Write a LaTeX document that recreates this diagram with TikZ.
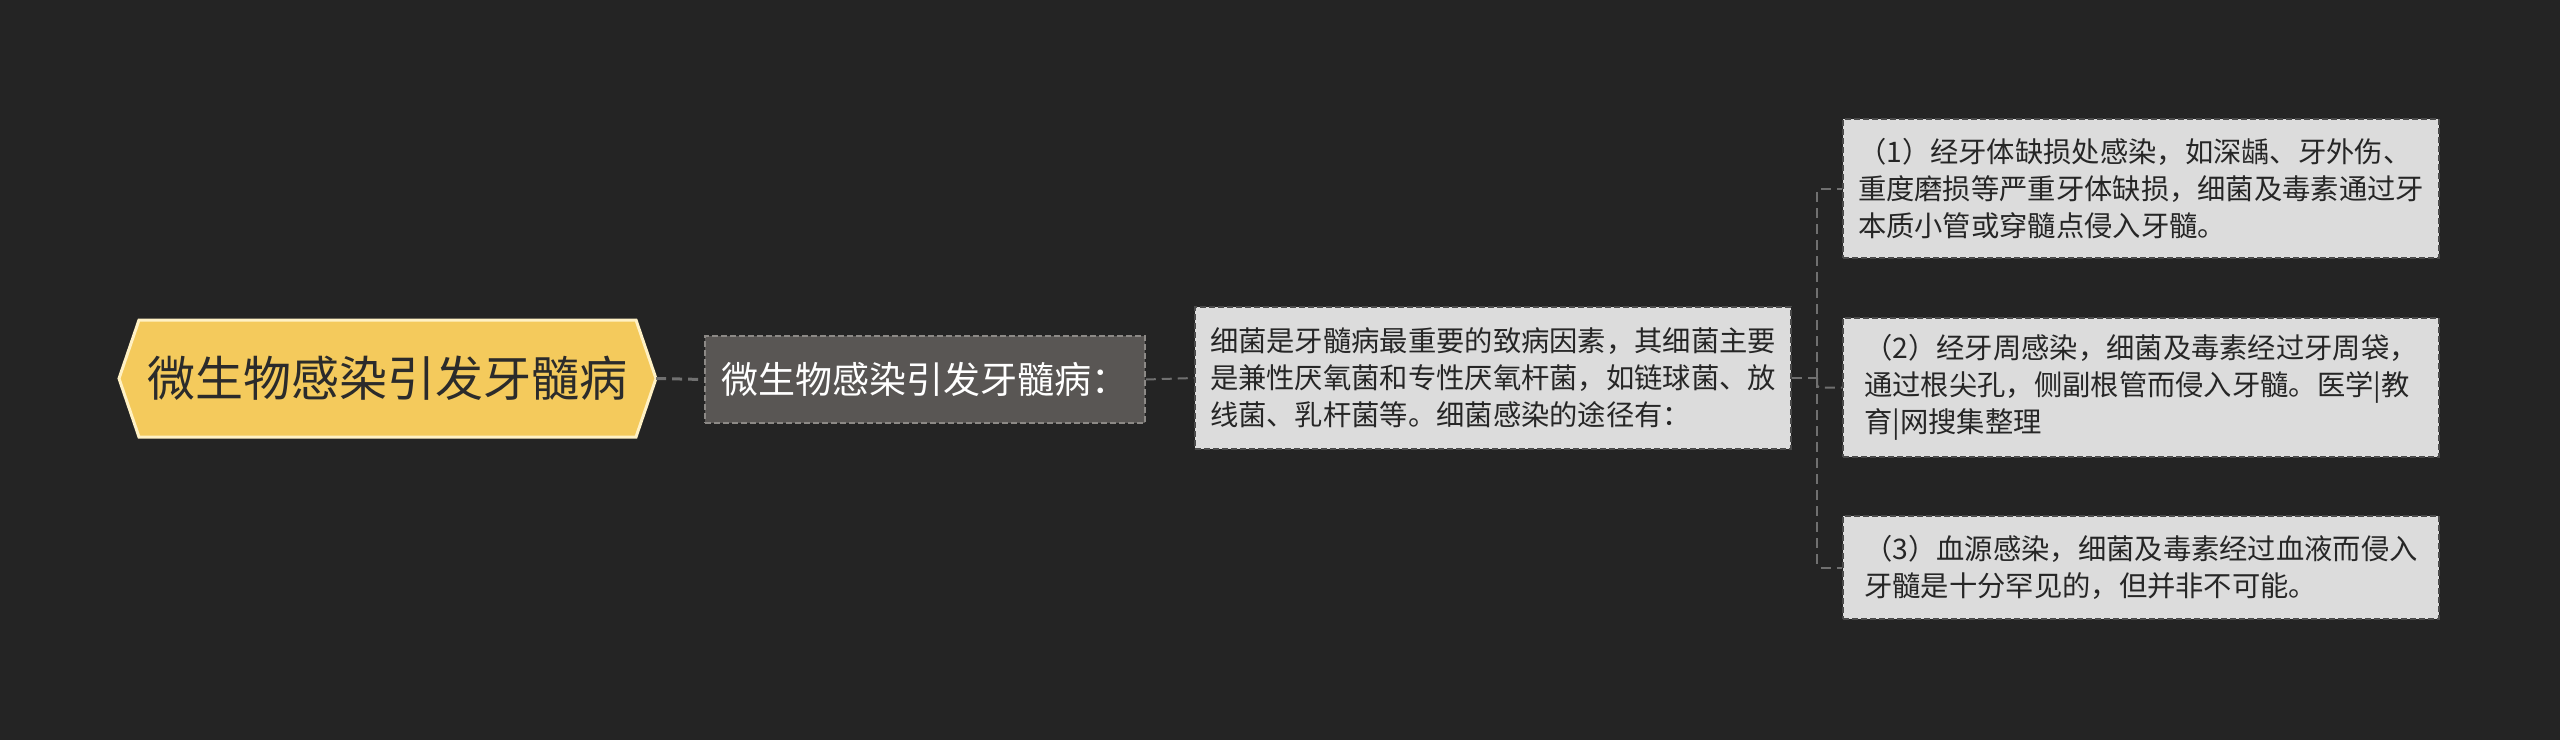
\documentclass[tikz,border=0pt]{standalone}
\usepackage{fontspec}
\setmainfont{Noto Sans CJK SC}
\usetikzlibrary{calc}
\definecolor{bg}{HTML}{242424}
\definecolor{rootfill}{HTML}{F4CA5C}
\definecolor{rootline}{HTML}{FFF1C4}
\definecolor{rootText}{HTML}{2B2B2B}
\definecolor{secfill}{HTML}{595654}
\definecolor{secline}{HTML}{8C8986}
\definecolor{leaffill}{HTML}{DCDCDC}
\definecolor{leafline}{HTML}{4A4A4A}
\definecolor{conncol}{HTML}{707070}
\tikzset{
  rootbox/.style={minimum width=537pt, minimum height=117pt, inner sep=0pt,
    text=rootText, font=\fontsize{48}{56}\selectfont},
  secbox/.style={draw=secline, fill=secfill, dash pattern=on 6pt off 3pt, line width=1.5pt,
    minimum width=440pt, minimum height=87pt, inner sep=0pt,
    text=white, font=\fontsize{37}{44}\selectfont},
  leafbox/.style={draw=leafline, fill=leaffill, dash pattern=on 6pt off 3pt, line width=1.5pt,
    minimum width=596pt, inner xsep=14pt, inner ysep=0pt, align=left,
    text=black!85, font=\fontsize{28.3}{37}\selectfont},
  conn/.style={draw=conncol, line width=2pt, dash pattern=on 10pt off 6pt},
}
\begin{document}
\begin{tikzpicture}[x=1pt,y=-1pt]
\useasboundingbox (0,0) rectangle (2560,740);
\fill[bg] (0,0) rectangle (2560,740);

\coordinate (rootc) at (387.5,378.5);
\filldraw[fill=rootfill, draw=rootline, line width=3pt]
  ($(rootc)+(-268.5,0)$) -- ($(rootc)+(-248.5,-58.5)$) -- ($(rootc)+(248.5,-58.5)$)
  -- ($(rootc)+(268.5,0)$) -- ($(rootc)+(248.5,58.5)$) -- ($(rootc)+(-248.5,58.5)$) -- cycle;
\node[rootbox] (root) at (rootc) {微生物感染引发牙髓病};

\node[secbox] (sec) at (925,379.5) {微生物感染引发牙髓病：};

\node[leafbox, minimum height=142pt] (mid) at (1493,378) {细菌是牙髓病最重要的致病因素，其细菌主要\\是兼性厌氧菌和专性厌氧杆菌，如链球菌、放\\线菌、乳杆菌等。细菌感染的途径有：};

\node[leafbox, minimum height=139pt] (l1) at (2141,188.5) {（1）经牙体缺损处感染，如深龋、牙外伤、\\重度磨损等严重牙体缺损，细菌及毒素通过牙\\本质小管或穿髓点侵入牙髓。};
\node[leafbox, minimum height=139pt] (l2) at (2141,387.5) {（2）经牙周感染，细菌及毒素经过牙周袋，\\通过根尖孔，侧副根管而侵入牙髓。医学|教\\育|网搜集整理};
\node[leafbox, minimum height=103pt] (l3) at (2141,567.5) {（3）血源感染，细菌及毒素经过血液而侵入\\牙髓是十分罕见的，但并非不可能。};

\draw[conn, line width=3pt] (root.east) -- (sec.west);
\draw[conn] (sec.east) -- (mid.west);
\coordinate (bus) at (1817,378);
\draw[conn] (mid.east) -- (bus);
\draw[conn, rounded corners=3pt] (bus) |- (l1.west);
\draw[conn, rounded corners=3pt] (bus) |- (l2.west);
\draw[conn, rounded corners=3pt] (bus) |- (l3.west);
\end{tikzpicture}
\end{document}
